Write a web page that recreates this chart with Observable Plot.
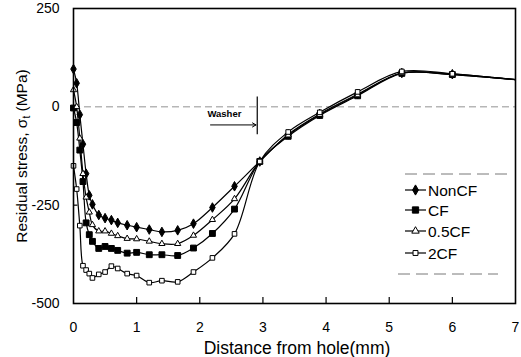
<!DOCTYPE html>
<html>
<head>
<meta charset="utf-8">
<script src="https://cdn.jsdelivr.net/npm/d3@7"></script>
<script src="https://cdn.jsdelivr.net/npm/@observablehq/plot@0.6"></script>
<style>
  html, body { margin: 0; padding: 0; background: #fff; }
  #chart { width: 521px; height: 357px; }
</style>
</head>
<body>
<div id="chart"></div>
<script>
// Distance from hole (mm)
const xs = [0, 0.05, 0.1, 0.15, 0.2, 0.25, 0.3, 0.4, 0.5, 0.6, 0.7, 0.85, 1.0, 1.2, 1.4, 1.65, 1.9, 2.2, 2.55, 2.95, 3.4, 3.9, 4.5, 5.2, 6.0, 7.0];
// Residual stress (MPa) per series
const nonCF  = [96, 60, -20, -95, -170, -225, -248, -275, -283, -288, -295, -301, -306, -312, -318, -314, -297, -256, -202, -139, -70, -18, 32, 86, 83, 69];
const cf     = [-3, -40, -110, -190, -295, -325, -342, -360, -355, -360, -365, -372, -370, -376, -376, -378, -359, -322, -260, -139, -75, -22, 28, 85, 82, 69];
const halfCF = [43, 0, -80, -170, -230, -268, -300, -316, -316, -322, -328, -335, -336, -342, -348, -348, -327, -287, -234, -139, -72, -20, 30, 86, 82, 69];
const twoCF  = [-150, -209, -302, -404, -415, -424, -435, -426, -420, -405, -411, -424, -429, -447, -442, -445, -420, -384, -323, -139, -64, -14, 38, 90, 84, 69];

const seriesNames = ["NonCF", "CF", "0.5CF", "2CF"];
const seriesValues = [nonCF, cf, halfCF, twoCF];
const xTicks = [0, 1, 2, 3, 4, 5, 6, 7];
const yTicks = [250, 0, -250, -500];

// Washer annotation (data units)
const washerX = [2.91];
const washerArrowStart = [2.17];

const rows = [];
seriesNames.forEach((name, i) => {
  xs.forEach((x, j) => rows.push({series: name, x, y: seriesValues[i][j]}));
});

const markerStyle = {
  "NonCF": {symbol: "diamond", r: 2.9, fill: "black"},
  "CF": {symbol: "square", r: 3.3, fill: "black"},
  "0.5CF": {symbol: "triangle", r: 2.3, fill: "white"},
  "2CF": {symbol: "square", r: 2.6, fill: "white"}
};

const font = "'Liberation Sans', Arial, sans-serif";

const marks = [
  Plot.ruleY([0], {stroke: "#777", strokeWidth: 0.8, strokeDasharray: "7,4"}),
  Plot.axisX(xTicks, {tickSize: 0, tickPadding: 19, fontSize: 14, label: null}),
  Plot.axisY(yTicks, {tickSize: 0, tickPadding: 14, fontSize: 14, label: null,
    tickFormat: d => d < 0 ? "-" + Math.abs(d) : String(d)}),
  Plot.ruleX(xTicks.slice(1, -1), {y1: -500, y2: -485, stroke: "black", strokeWidth: 1.2}),
  Plot.ruleY(yTicks.slice(1, -1), {x1: 0, x2: 0.07, stroke: "black", strokeWidth: 1.2}),
];

seriesNames.forEach(name => {
  const data = rows.filter(d => d.series === name);
  marks.push(Plot.line(data, {x: "x", y: "y", stroke: "black", strokeWidth: 1.2, curve: "catmull-rom"}));
});
seriesNames.forEach(name => {
  const data = rows.filter(d => d.series === name && d.x < 7);
  const m = markerStyle[name];
  marks.push(Plot.dot(data, {x: "x", y: "y", symbol: () => m.symbol, r: m.r, fill: m.fill, stroke: "black", strokeWidth: 1}));
});

// Washer annotation
marks.push(Plot.ruleX(washerX, {y1: 25, y2: -71, stroke: "black", strokeWidth: 1.2}));
marks.push(Plot.arrow(washerArrowStart, {x1: d => d, x2: washerX[0] - 0.02, y1: -46, y2: -46, stroke: "black", strokeWidth: 1, headLength: 6}));
marks.push(Plot.text(["Washer"], {x: 2.39, y: -18, fontSize: 9.5, fontWeight: "bold", fontFamily: font}));
marks.push(Plot.frame({stroke: "black", strokeWidth: 1.6}));

const chart = Plot.plot({
  width: 521,
  height: 357,
  marginLeft: 73,
  marginRight: 6,
  marginTop: 8,
  marginBottom: 54,
  x: {domain: [0, 7]},
  y: {domain: [-500, 250]},
  style: {fontFamily: font, fontSize: "14px", color: "black", background: "white"},
  marks
});

const svg = d3.select(chart);
// Axis titles
svg.append("text")
  .attr("x", 297).attr("y", 354)
  .attr("text-anchor", "middle")
  .attr("font-family", font).attr("font-size", 17.5).attr("fill", "black")
  .text("Distance from hole(mm)");

const yl = svg.append("text")
  .attr("transform", "translate(27,156) rotate(-90)")
  .attr("text-anchor", "middle")
  .attr("font-family", font).attr("font-size", 15.5).attr("fill", "black");
yl.append("tspan").text("Residual stress, σ");
yl.append("tspan").attr("font-size", 10).attr("dy", 3).text("t");
yl.append("tspan").attr("dy", -3).text(" (MPa)");

// Legend
const lg = svg.append("g").attr("font-family", font).attr("font-size", 15.5).attr("text-anchor", "start");
lg.append("line").attr("x1", 405).attr("x2", 512).attr("y1", 174).attr("y2", 174)
  .attr("stroke", "#555").attr("stroke-width", 0.8).attr("stroke-dasharray", "12,6");
lg.append("line").attr("x1", 398).attr("x2", 498).attr("y1", 274).attr("y2", 274)
  .attr("stroke", "#555").attr("stroke-width", 0.8).attr("stroke-dasharray", "12,6");
const legendY = [190, 210, 231, 253];
const symMap = {diamond: d3.symbolDiamond, square: d3.symbolSquare, triangle: d3.symbolTriangle};
seriesNames.forEach((name, i) => {
  const y = legendY[i];
  const m = markerStyle[name];
  lg.append("line").attr("x1", 405).attr("x2", 426).attr("y1", y).attr("y2", y)
    .attr("stroke", "black").attr("stroke-width", 1.2);
  const area = m.symbol === "square" ? Math.pow(m.r * 2, 2) * 0.9 : (m.symbol === "triangle" ? 24 : 30);
  lg.append("path").attr("d", d3.symbol(symMap[m.symbol], area)())
    .attr("transform", `translate(415.5,${y})`)
    .attr("fill", m.fill).attr("stroke", "black").attr("stroke-width", 1);
  lg.append("text").attr("x", 428).attr("y", y).attr("dy", "0.36em").attr("fill", "black")
    .attr("text-anchor", "start").text(name);
});

document.getElementById("chart").appendChild(chart);
</script>
</body>
</html>
